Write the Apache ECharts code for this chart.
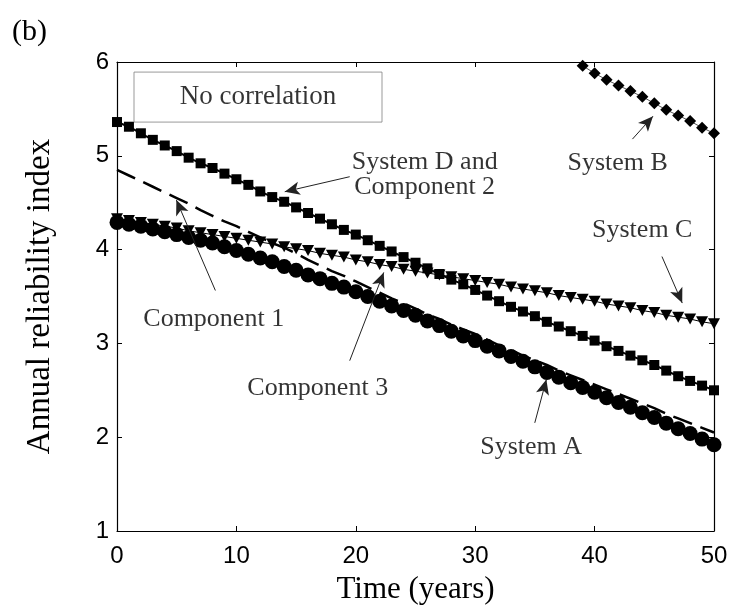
<!DOCTYPE html>
<html>
<head>
<meta charset="utf-8">
<script src="https://cdn.jsdelivr.net/npm/echarts@6/dist/echarts.min.js"></script>
<style>
  html, body { margin: 0; padding: 0; background: #fff; }
  #chart { width: 742px; height: 612px; }
</style>
</head>
<body>
<div id="chart"></div>
<script>
// Time axis (years) shared by every series
const years = [0,1,2,3,4,5,6,7,8,9,10,11,12,13,14,15,16,17,18,19,20,21,22,23,24,25,
  26,27,28,29,30,31,32,33,34,35,36,37,38,39,40,41,42,43,44,45,46,47,48,49,50];

// Annual reliability index, no correlation
const systemA = [4.29,4.27,4.25,4.22,4.19,4.16,4.13,4.10,4.07,4.03,
  3.99,3.95,3.91,3.87,3.82,3.78,3.73,3.69,3.64,3.60,
  3.55,3.50,3.45,3.40,3.35,3.30,3.24,3.19,3.13,3.08,
  3.03,2.97,2.92,2.86,2.81,2.75,2.69,2.64,2.58,2.53,
  2.48,2.42,2.37,2.32,2.26,2.21,2.15,2.09,2.04,1.98,1.92];
const component1 = [4.85,4.79,4.73,4.67,4.61,4.55,4.49,4.42,4.36,4.30,
  4.25,4.19,4.13,4.07,4.02,3.96,3.89,3.83,3.77,3.72,
  3.66,3.60,3.54,3.48,3.43,3.37,3.31,3.26,3.20,3.15,
  3.10,3.04,2.98,2.93,2.87,2.82,2.77,2.71,2.66,2.61,
  2.56,2.51,2.46,2.41,2.36,2.31,2.25,2.20,2.15,2.10,2.05];
const systemC = [4.33,4.31,4.29,4.27,4.25,4.23,4.20,4.18,4.16,4.14,
  4.12,4.10,4.08,4.06,4.03,4.01,3.99,3.96,3.94,3.92,
  3.89,3.87,3.84,3.82,3.79,3.77,3.75,3.73,3.71,3.69,
  3.67,3.65,3.63,3.60,3.58,3.56,3.54,3.51,3.49,3.47,
  3.45,3.42,3.40,3.38,3.35,3.33,3.30,3.28,3.26,3.23,3.21];
const systemD = [5.36,5.31,5.24,5.17,5.11,5.05,4.98,4.92,4.87,4.81,
  4.75,4.69,4.62,4.56,4.51,4.45,4.39,4.33,4.27,4.21,
  4.16,4.10,4.04,3.98,3.92,3.86,3.80,3.74,3.68,3.63,
  3.57,3.51,3.45,3.39,3.34,3.29,3.23,3.18,3.13,3.08,
  3.03,2.97,2.92,2.87,2.82,2.77,2.71,2.65,2.60,2.55,2.50];
// System B only enters the 1–6 window late in the period
const systemBYears = [39,40,41,42,43,44,45,46,47,48,49,50];
const systemB = [5.96,5.88,5.81,5.75,5.69,5.63,5.56,5.49,5.43,5.37,5.30,5.24];

// Text callouts, positioned in data coordinates
const noteTexts = ['System D and\nComponent 2', 'System B', 'System C', 'Component 1', 'Component 3', 'System A'];
const notePositions = [[25.77,4.80],[41.93,4.92],[43.99,4.21],[8.10,3.26],[16.81,2.52],[34.69,1.89]];
const boxText = 'No correlation';
const boxPosition = [11.81,5.626];

// Leader arrows: [tail, tip] in data coordinates
const arrowTails = [[19.49,4.777],[43.17,5.178],[45.64,3.926],[8.24,3.564],[19.49,2.816],[34.99,2.153]];
const arrowTips  = [[14.05,4.617],[44.89,5.422],[47.34,3.430],[4.97,4.529],[22.34,3.757],[35.96,2.614]];

const SERIF = "'Liberation Serif', 'Times New Roman', serif";
const SANS = "'Liberation Sans', Arial, sans-serif";

const pairs = (xs, ys) => xs.map((x, i) => [x, ys[i]]);

const frameAxis = {
  axisLine: { show: true, onZero: false, lineStyle: { color: '#000', width: 1.2 } },
  axisTick: { show: true, inside: true, length: 5, lineStyle: { color: '#000', width: 1 } },
  splitLine: { show: false }
};

const chart = echarts.init(document.getElementById('chart'), null, { renderer: 'canvas' });

chart.setOption({
  backgroundColor: '#fff',
  animation: false,
  grid: { left: 117, right: 28, top: 62, bottom: 81, show: false },
  graphic: [
    { type: 'text', left: 12, top: 17,
      style: { text: '(b)', font: '30px ' + SERIF, fill: '#000' } }
  ],
  xAxis: [
    Object.assign({
      type: 'value', min: 0, max: 50, interval: 10, position: 'bottom',
      axisLabel: { color: '#000', fontFamily: SANS, fontSize: 24, margin: 13 },
      name: 'Time (years)', nameLocation: 'middle', nameGap: 43,
      nameTextStyle: { fontFamily: SERIF, fontSize: 31, color: '#000' }
    }, frameAxis),
    Object.assign({
      type: 'value', min: 0, max: 50, interval: 10, position: 'top',
      axisLabel: { show: false }
    }, frameAxis)
  ],
  yAxis: [
    Object.assign({
      type: 'value', min: 1, max: 6, interval: 1, position: 'left',
      axisLabel: { color: '#000', fontFamily: SANS, fontSize: 24, margin: 8 },
      name: 'Annual reliability index', nameLocation: 'middle', nameGap: 60,
      nameTextStyle: { fontFamily: SERIF, fontSize: 33, color: '#000' }
    }, frameAxis),
    Object.assign({
      type: 'value', min: 1, max: 6, interval: 1, position: 'right',
      axisLabel: { show: false }
    }, frameAxis)
  ],
  series: [
    {
      name: 'System C', type: 'line', data: pairs(years, systemC),
      symbol: 'triangle', symbolRotate: 180, symbolSize: [12, 11],
      itemStyle: { color: '#000' }, lineStyle: { color: '#000', width: 1 }, z: 2
    },
    {
      name: 'System A', type: 'line', data: pairs(years, systemA),
      symbol: 'circle', symbolSize: 15,
      itemStyle: { color: '#000' }, lineStyle: { color: '#000', width: 1.5 }, z: 3
    },
    {
      name: 'Component 1', type: 'line', data: pairs(years, component1),
      symbol: 'none',
      lineStyle: { color: '#000', width: 2.5, type: [20, 9] }, z: 4
    },
    {
      name: 'System D and Component 2', type: 'line', data: pairs(years, systemD),
      symbol: 'rect', symbolSize: 10,
      itemStyle: { color: '#000' }, lineStyle: { color: '#000', width: 2 }, z: 5
    },
    {
      name: 'System B', type: 'line', data: pairs(systemBYears, systemB),
      symbol: 'diamond', symbolSize: 12,
      itemStyle: { color: '#000' }, lineStyle: { color: '#555', width: 1 }, z: 5
    },
    {
      name: 'callouts', type: 'scatter', symbolSize: 0, silent: true, z: 10,
      data: noteTexts.map((t, i) => ({ name: t, value: notePositions[i] })).concat([{
        name: boxText, value: boxPosition,
        label: {
          fontSize: 27,
          borderColor: '#808080', borderWidth: 1, width: 248, height: 50,
          lineHeight: 50, align: 'center', verticalAlign: 'middle', padding: 0
        }
      }]),
      label: {
        show: true, position: 'inside', formatter: '{b}',
        color: '#000', fontFamily: SERIF, fontSize: 26, lineHeight: 25, align: 'center'
      },
      markLine: {
        silent: true, animation: false,
        symbol: ['none', 'arrow'], symbolSize: [10, 15],
        label: { show: false },
        lineStyle: { color: '#222', width: 1, type: 'solid' },
        itemStyle: { color: '#000' },
        data: arrowTails.map((t, i) => [{ coord: t }, { coord: arrowTips[i] }])
      }
    }
  ]
});
</script>
</body>
</html>
